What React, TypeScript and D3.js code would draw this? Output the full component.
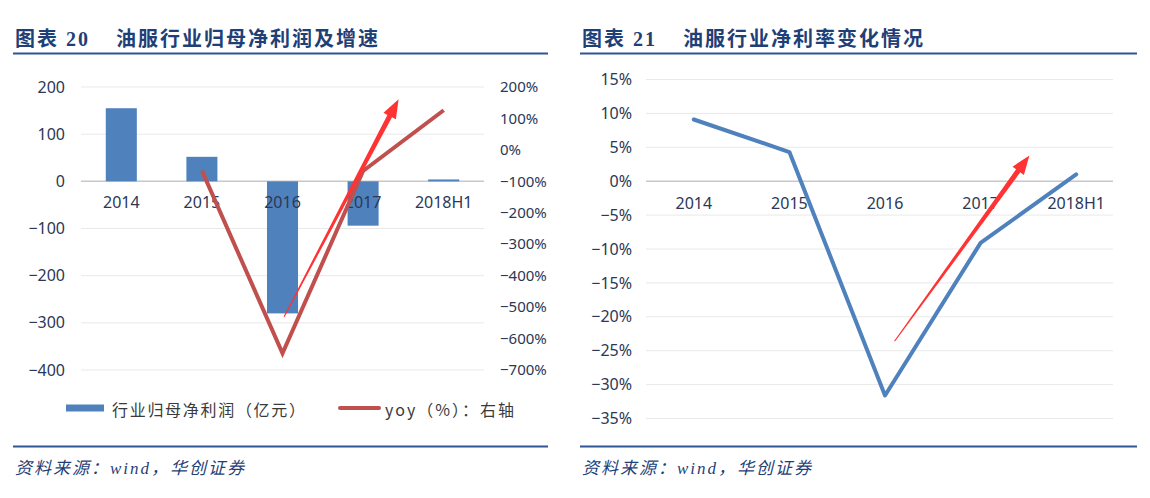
import React from "react";
import * as d3 from "d3";

const categories = ["2014", "2015", "2016", "2017", "2018H1"];
const netProfit = [155, 52, -280, -94, 4]; // 亿元
const yoy: (number | null)[] = [null, -66, -647, -67, 126]; // %
const netMargin = [9.1, 4.3, -31.6, -9.1, 1.0]; // %
const leftTicks = [200, 100, 0, -100, -200, -300, -400];
const rightTicks = [200, 100, 0, -100, -200, -300, -400, -500, -600, -700];
const marginTicks = [15, 10, 5, 0, -5, -10, -15, -20, -25, -30, -35];
// annotation arrows in data units: [category index, value]
const arrowLeft = { from: [2.02, -287], to: [3.44, 174] };
const arrowRight = { from: [2.1, -23.6], to: [3.51, 3.8] };

const BLUE = "#4F81BD";
const RED = "#C0504D";
const ARROW = "#FF3333";
const AXIS_TXT = "#2B3856";
const TITLE = "#1F3F77";
const GRID = "#E9E9E9";
const ZERO = "#C8C8C8";
const FONT = "'Noto Sans', 'Noto Sans CJK SC', sans-serif";
const CJK = "'Noto Sans CJK SC', sans-serif";

const fmtMinus = (v: number) => (v < 0 ? "\u2212" + Math.abs(v) : String(v));

function arrowPath(x1: number, y1: number, x2: number, y2: number) {
  const L = Math.hypot(x2 - x1, y2 - y1);
  const ux = (x2 - x1) / L, uy = (y2 - y1) / L;
  const nx = -uy, ny = ux;
  const headLen = 19, headW = 7, w0 = 0.6, w1 = 2.6;
  const bx = x2 - ux * headLen, by = y2 - uy * headLen;
  const pts = [
    [x1 + nx * w0, y1 + ny * w0],
    [bx + nx * w1, by + ny * w1],
    [bx + nx * headW, by + ny * headW],
    [x2, y2],
    [bx - nx * headW, by - ny * headW],
    [bx - nx * w1, by - ny * w1],
    [x1 - nx * w0, y1 - ny * w0],
  ];
  return "M" + pts.map((p) => p[0].toFixed(1) + "," + p[1].toFixed(1)).join("L") + "Z";
}

function Header({ x, lineX2, num, title }: { x: number; lineX2: number; num: string; title: string }) {
  return (
    <g>
      <text x={x + 2} y={46} fill={TITLE} fontSize={20} fontWeight="bold" fontFamily={`'Liberation Serif', ${CJK}`} letterSpacing={2}>
        图表 {num}
      </text>
      <text x={x + 103} y={46} fill={TITLE} fontSize={20} fontWeight="bold" fontFamily={CJK} letterSpacing={2}>
        {title}
      </text>
      <line x1={x} x2={lineX2} y1={53.5} y2={53.5} stroke="#2F5597" strokeWidth={2} />
      <line x1={x} x2={lineX2} y1={446.5} y2={446.5} stroke="#2F5597" strokeWidth={2} />
      <text x={x + 2} y={474} fill={TITLE} fontSize={17} fontStyle="italic" fontFamily={`'Liberation Serif', ${CJK}`} letterSpacing={2}>
        资料来源：wind，华创证券
      </text>
    </g>
  );
}

function LeftChart() {
  const x = d3.scaleBand<string>().domain(categories).range([81, 484]);
  const yL = d3.scaleLinear().domain([-400, 200]).range([370, 87]);
  const yR = d3.scaleLinear().domain([-700, 200]).range([370, 87]);
  const bw = x.bandwidth() * 0.385;
  const cx = (c: string) => (x(c) as number) + x.bandwidth() / 2;
  const xi = d3.scaleLinear().domain([0, categories.length - 1]).range([cx(categories[0]), cx(categories[categories.length - 1])]);
  const line = d3
    .line<{ c: string; v: number | null }>()
    .defined((d) => d.v !== null)
    .x((d) => cx(d.c))
    .y((d) => yR(d.v as number));
  const lineData = categories.map((c, i) => ({ c, v: yoy[i] }));
  const [x0, x1] = x.range();
  return (
    <g>
      {leftTicks.map((t) => (
        <g key={t}>
          <line x1={x0} x2={x1} y1={yL(t)} y2={yL(t)} stroke={t === 0 ? ZERO : GRID} strokeWidth={t === 0 ? 1.5 : 1} />
          <text x={65} y={yL(t)} dy="0.35em" textAnchor="end" fontSize={16} fill={AXIS_TXT} fontFamily={FONT}>
            {fmtMinus(t)}
          </text>
        </g>
      ))}
      {rightTicks.map((t) => (
        <text key={t} x={500} y={yR(t)} dy="0.35em" textAnchor="start" fontSize={15} fill={AXIS_TXT} fontFamily={FONT}>
          {fmtMinus(t)}%
        </text>
      ))}
      {categories.map((c, i) => (
        <rect
          key={c}
          x={cx(c) - bw / 2}
          width={bw}
          y={Math.min(yL(netProfit[i]), yL(0))}
          height={Math.abs(yL(netProfit[i]) - yL(0))}
          fill={BLUE}
        />
      ))}
      {categories.map((c) => (
        <text key={c} x={cx(c)} y={yL(0) + 21} dy="0.35em" textAnchor="middle" fontSize={16} fill={AXIS_TXT} fontFamily={FONT}>
          {c}
        </text>
      ))}
      <path d={line(lineData) as string} fill="none" stroke={RED} strokeWidth={4} strokeLinejoin="miter" />
      <path
        d={arrowPath(xi(arrowLeft.from[0]), yL(arrowLeft.from[1]), xi(arrowLeft.to[0]), yL(arrowLeft.to[1]))}
        fill={ARROW}
      />
      {/* legend */}
      <rect x={66} y={404.5} width={38} height={7} fill={BLUE} />
      <text x={112} y={416} fontSize={16} fill="#3A3A3A" fontFamily={CJK} letterSpacing={1.7}>
        行业归母净利润（亿元）
      </text>
      <line x1={340} x2={379} y1={408} y2={408} stroke={RED} strokeWidth={4} strokeLinecap="round" />
      <text x={385} y={416} fontSize={16} fill="#3A3A3A" fontFamily={CJK} letterSpacing={2}>
        yoy（%）：右轴
      </text>
    </g>
  );
}

function RightChart() {
  const x = d3.scalePoint<string>().domain(categories).range([646, 1124]).padding(0.5);
  const y = d3.scaleLinear().domain([-35, 15]).range([418.5, 79.5]);
  const xi = d3.scaleLinear().domain([0, categories.length - 1]).range([x(categories[0]) as number, x(categories[categories.length - 1]) as number]);
  const line = d3
    .line<number>()
    .x((_, i) => x(categories[i]) as number)
    .y((d) => y(d));
  return (
    <g>
      {marginTicks.map((t) => (
        <g key={t}>
          <line x1={646} x2={1113} y1={y(t)} y2={y(t)} stroke={t === 0 ? ZERO : GRID} strokeWidth={t === 0 ? 1.5 : 1} />
          <text x={632} y={y(t)} dy="0.35em" textAnchor="end" fontSize={16} fill={AXIS_TXT} fontFamily={FONT}>
            {fmtMinus(t)}%
          </text>
        </g>
      ))}
      {categories.map((c) => (
        <text key={c} x={x(c) as number} y={y(0) + 22} dy="0.35em" textAnchor="middle" fontSize={16} fill={AXIS_TXT} fontFamily={FONT}>
          {c}
        </text>
      ))}
      <path d={line(netMargin) as string} fill="none" stroke={BLUE} strokeWidth={4} strokeLinejoin="round" strokeLinecap="round" />
      <path
        d={arrowPath(xi(arrowRight.from[0]), y(arrowRight.from[1]), xi(arrowRight.to[0]), y(arrowRight.to[1]))}
        fill={ARROW}
      />
    </g>
  );
}

export default function App() {
  return (
    <svg width={1150} height={498} style={{ position: "absolute", left: 0, top: 0, background: "#fff" }}>
      <rect width={1150} height={498} fill="#fff" />
      <Header x={13} lineX2={548} num="20" title="油服行业归母净利润及增速" />
      <Header x={580} lineX2={1137} num="21" title="油服行业净利率变化情况" />
      <LeftChart />
      <RightChart />
    </svg>
  );
}
